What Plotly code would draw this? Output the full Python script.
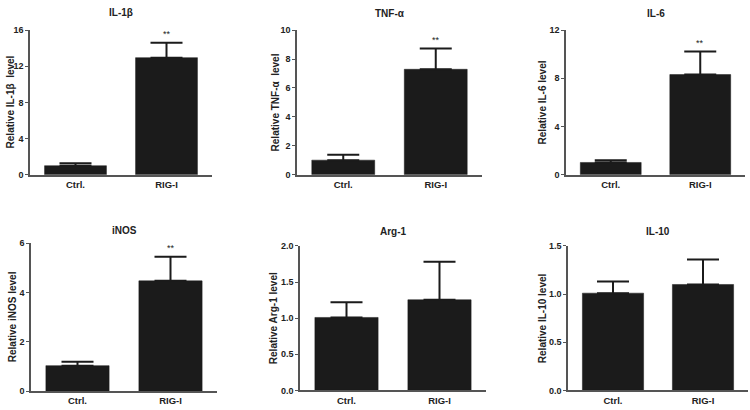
import plotly.graph_objects as go

categories = ["Ctrl.", "RIG-I"]

titles = ["IL-1β", "TNF-α", "IL-6", "iNOS", "Arg-1", "IL-10"]
ytitles = ["Relative IL-1β  level", "Relative TNF-α  level", "Relative IL-6 level",
           "Relative iNOS level", "Relative Arg-1 level", "Relative IL-10 level"]

il1b_mean = [1.0, 12.95]
il1b_err = [0.28, 1.65]
tnfa_mean = [1.01, 7.29]
tnfa_err = [0.38, 1.43]
il6_mean = [1.02, 8.31]
il6_err = [0.19, 1.91]
inos_mean = [1.04, 4.47]
inos_err = [0.16, 0.98]
arg1_mean = [1.01, 1.255]
arg1_err = [0.21, 0.525]
il10_mean = [1.01, 1.10]
il10_err = [0.12, 0.26]

stars = ["", "**"]

yticks = [
    [0, 4, 8, 12, 16],
    [0, 2, 4, 6, 8, 10],
    [0, 4, 8, 12],
    [0, 2, 4, 6],
    [0.0, 0.5, 1.0, 1.5, 2.0],
    [0.0, 0.5, 1.0, 1.5],
]
ytick_labels = [
    ["0", "4", "8", "12", "16"],
    ["0", "2", "4", "6", "8", "10"],
    ["0", "4", "8", "12"],
    ["0", "2", "4", "6"],
    ["0.0", "0.5", "1.0", "1.5", "2.0"],
    ["0.0", "0.5", "1.0", "1.5"],
]

means = [il1b_mean, tnfa_mean, il6_mean, inos_mean, arg1_mean, il10_mean]
errs = [il1b_err, tnfa_err, il6_err, inos_err, arg1_err, il10_err]

W, H = 750, 410
# pixel boxes: (x0, x1, ytop, ybottom)
boxes = [
    (30, 212, 25.7, 174),
    (297, 482, 25.7, 174),
    (566, 745, 25.7, 174),
    (31, 217, 244, 396),
    (300, 486, 247, 395),
    (568, 748, 247, 395),
]
title_y = [8, 9, 9, 231, 232, 232]
ytitle_x = [10, 275, 542, 12, 273, 542]

FONT = "Liberation Sans"
fig = go.Figure()
layout = dict(
    width=W, height=H,
    margin=dict(l=0, r=0, t=0, b=0),
    paper_bgcolor="white", plot_bgcolor="white",
    showlegend=False,
    font=dict(family=FONT, color="#222"),
    annotations=[],
)

for i in range(6):
    n = "" if i == 0 else str(i + 1)
    x0, x1, yt, yb = boxes[i]
    fig.add_trace(go.Bar(
        x=categories, y=means[i],
        xaxis="x" + n, yaxis="y" + n,
        marker=dict(color="#1b1b1b", line=dict(color="#1b1b1b", width=0.5)),
        width=0.68,
        error_y=dict(type="data", symmetric=False, array=errs[i],
                     arrayminus=[0, 0], color="#1b1b1b", thickness=2, width=16),
    ))
    top = yticks[i][-1]
    layout["xaxis" + n] = dict(
        domain=[x0 / W, x1 / W], anchor="y" + n,
        showline=True, linecolor="#555", linewidth=1.5,
        ticks="", showgrid=False, zeroline=False,
        tickfont=dict(family=FONT, size=9.5, color="#222", weight="bold"),
        range=[-0.5, 1.5],
    )
    layout["yaxis" + n] = dict(
        domain=[1 - yb / H, 1 - yt / H], anchor="x" + n,
        range=[0, top], showline=True, linecolor="#555", linewidth=1.5,
        ticks="outside", ticklen=3, tickcolor="#555", tickwidth=1.2,
        tickvals=yticks[i], ticktext=ytick_labels[i],
        showgrid=False, zeroline=False,
        tickfont=dict(family=FONT, size=9, color="#222", weight="bold"),
    )
    layout["annotations"].append(dict(
        text="<b>%s</b>" % titles[i], xref="paper", yref="paper",
        x=(x0 + x1) / 2 / W, y=1 - title_y[i] / H,
        showarrow=False, xanchor="center", yanchor="middle",
        font=dict(family=FONT, size=10, color="#222"),
    ))
    layout["annotations"].append(dict(
        text="<b>%s</b>" % ytitles[i], xref="paper", yref="paper",
        x=ytitle_x[i] / W, y=1 - (yt + yb) / 2 / H, textangle=-90,
        showarrow=False, xanchor="center", yanchor="middle",
        font=dict(family=FONT, size=10, color="#222"),
    ))
    for j, s in enumerate(stars):
        if s and i < 4:
            layout["annotations"].append(dict(
                text=s, xref="x" + n, yref="y" + n,
                x=categories[j], y=means[i][j] + errs[i][j],
                showarrow=False, xanchor="center", yanchor="bottom", yshift=2,
                font=dict(family=FONT, size=9, color="#222"),
            ))

fig.update_layout(**layout)
fig.write_html("out.html",
               config={"displayModeBar": False},
               post_script="document.body.style.margin='0';document.body.style.overflow='hidden';")
